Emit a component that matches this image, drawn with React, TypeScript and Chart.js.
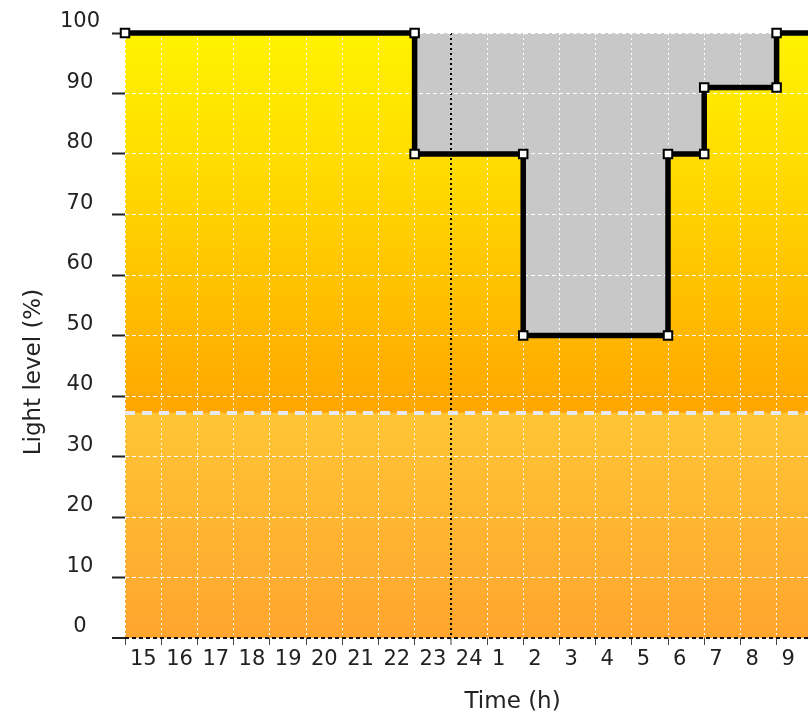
import React, { useEffect, useRef } from 'react';
import { Chart, registerables } from 'chart.js';

Chart.register(...registerables);

// Step profile of the light level (hour of day, continuous after midnight: 25 = 1h, ...)
const stepTimes = [15, 23, 23, 26, 26, 30, 30, 31, 31, 33, 33, 36];
const stepLevels = [100, 100, 80, 80, 50, 50, 80, 80, 91, 91, 100, 100];

// Threshold (dashed) line
const thresholdTimes = [15, 36];
const thresholdLevels = [37.2, 37.2];

// Axis ticks
const hourTickValues = [15, 16, 17, 18, 19, 20, 21, 22, 23, 24, 25, 26, 27, 28, 29, 30, 31, 32, 33, 34, 35];
const hourTickLabels = ['15', '16', '17', '18', '19', '20', '21', '22', '23', '24', '1', '2', '3', '4', '5', '6', '7', '8', '9', '10', '11'];
const levelTickValues = [0, 10, 20, 30, 40, 50, 60, 70, 80, 90, 100];
const midnightHour = 24;

const xTitle = 'Time (h)';
const yTitle = 'Light level (%)';

export default function App() {
  const canvasRef = useRef<HTMLCanvasElement | null>(null);

  useEffect(() => {
    const canvas = canvasRef.current;
    if (!canvas) return;

    const stepPoints = stepTimes.map((t, i) => ({ x: t, y: stepLevels[i] }));
    const thresholdPoints = thresholdTimes.map((t, i) => ({ x: t, y: thresholdLevels[i] }));

    const gradientFill = (ctx: any) => {
      const chart = ctx.chart;
      const area = chart.chartArea;
      if (!area) return '#FFC000';
      const yScale = chart.scales.y;
      const g = chart.ctx.createLinearGradient(0, area.top, 0, area.bottom);
      const tPix = yScale.getPixelForValue(thresholdLevels[0]);
      const s = Math.min(0.999, Math.max(0.001, (tPix - area.top) / (area.bottom - area.top)));
      g.addColorStop(0, '#FFF300');
      g.addColorStop(s * 0.35, '#FFDC00');
      g.addColorStop(s - 0.001, '#FFA600');
      g.addColorStop(s, '#FFC535');
      g.addColorStop(1, '#FFA52E');
      return g;
    };

    const tickFont = { family: 'DejaVu Sans', size: 21 };
    const titleFont = { family: 'DejaVu Sans', size: 23, lineHeight: 1 };

    const chart = new Chart(canvas, {
      type: 'line',
      data: {
        datasets: [
          {
            data: stepPoints,
            borderColor: '#000000',
            borderWidth: 5.5,
            fill: 'origin',
            backgroundColor: gradientFill,
            pointStyle: 'rect',
            pointRadius: 6,
            pointBorderWidth: 2,
            pointBorderColor: '#000000',
            pointBackgroundColor: '#FFFFFF',
            tension: 0,
            clip: 10,
          },
          {
            data: stepPoints,
            borderWidth: 0,
            borderColor: 'rgba(0,0,0,0)',
            fill: 'end',
            backgroundColor: '#C8C8C8',
            pointRadius: 0,
            tension: 0,
          },
          {
            data: thresholdPoints,
            borderColor: '#E8E8F2',
            borderWidth: 4,
            borderDash: [10, 7],
            fill: false,
            pointRadius: 0,
          },
        ],
      },
      options: {
        animation: false,
        responsive: false,
        events: [],
        layout: { padding: { top: 33, left: 0, right: 81, bottom: 0 } },
        plugins: {
          legend: { display: false },
          tooltip: { enabled: false },
          filler: { drawTime: 'beforeDraw', propagate: false },
        },
        scales: {
          x: {
            type: 'linear',
            min: hourTickValues[0],
            max: hourTickValues[hourTickValues.length - 1],
            afterBuildTicks: (scale: any) => {
              scale.ticks = hourTickValues.map((v) => ({ value: v }));
            },
            afterFit: (scale: any) => {
              scale.height = 76;
            },
            ticks: {
              autoSkip: false,
              maxRotation: 0,
              align: 'start',
              labelOffset: 5,
              padding: 2,
              color: '#222222',
              font: tickFont,
              callback: (value: any) => {
                const i = hourTickValues.indexOf(Number(value));
                return i >= 0 ? hourTickLabels[i] : '';
              },
            },
            grid: {
              color: (ctx: any) => (ctx.tick && ctx.tick.value === midnightHour ? '#000000' : '#FFFFFF'),
              lineWidth: (ctx: any) => (ctx.tick && ctx.tick.value === midnightHour ? 2 : 1),
              tickLength: 7,
              tickWidth: 1,
              tickColor: '#444444',
            },
            border: { display: false, dash: [2, 3] },
            title: {
              display: true,
              text: '       ' + xTitle,
              color: '#222222',
              font: titleFont,
              padding: { top: 0, bottom: 0 },
            },
          },
          y: {
            type: 'linear',
            min: 0,
            max: 100,
            afterBuildTicks: (scale: any) => {
              scale.ticks = levelTickValues.map((v) => ({ value: v }));
            },
            afterFit: (scale: any) => {
              scale.width = 125;
            },
            ticks: {
              padding: 12,
              crossAlign: 'center',
              labelOffset: -11,
              color: '#222222',
              font: tickFont,
            },
            grid: {
              color: (ctx: any) => (ctx.tick && ctx.tick.value === 0 ? '#111111' : '#FFFFFF'),
              lineWidth: (ctx: any) => (ctx.tick && ctx.tick.value === 0 ? 2 : 1),
              tickLength: 13,
              tickWidth: 2,
              tickColor: '#222222',
            },
            border: { display: false, dash: [4, 3] },
            title: {
              display: true,
              text: yTitle + '          ',
              color: '#222222',
              font: titleFont,
              padding: { top: 23, bottom: 0 },
            },
          },
        },
      },
    } as any);

    return () => {
      chart.destroy();
    };
  }, []);

  return (
    <div
      style={{
        position: 'fixed',
        left: 0,
        top: 0,
        width: 808,
        height: 714,
        overflow: 'hidden',
        background: '#FFFFFF',
      }}
    >
      <canvas ref={canvasRef} width={930} height={714} style={{ display: 'block' }} />
    </div>
  );
}
